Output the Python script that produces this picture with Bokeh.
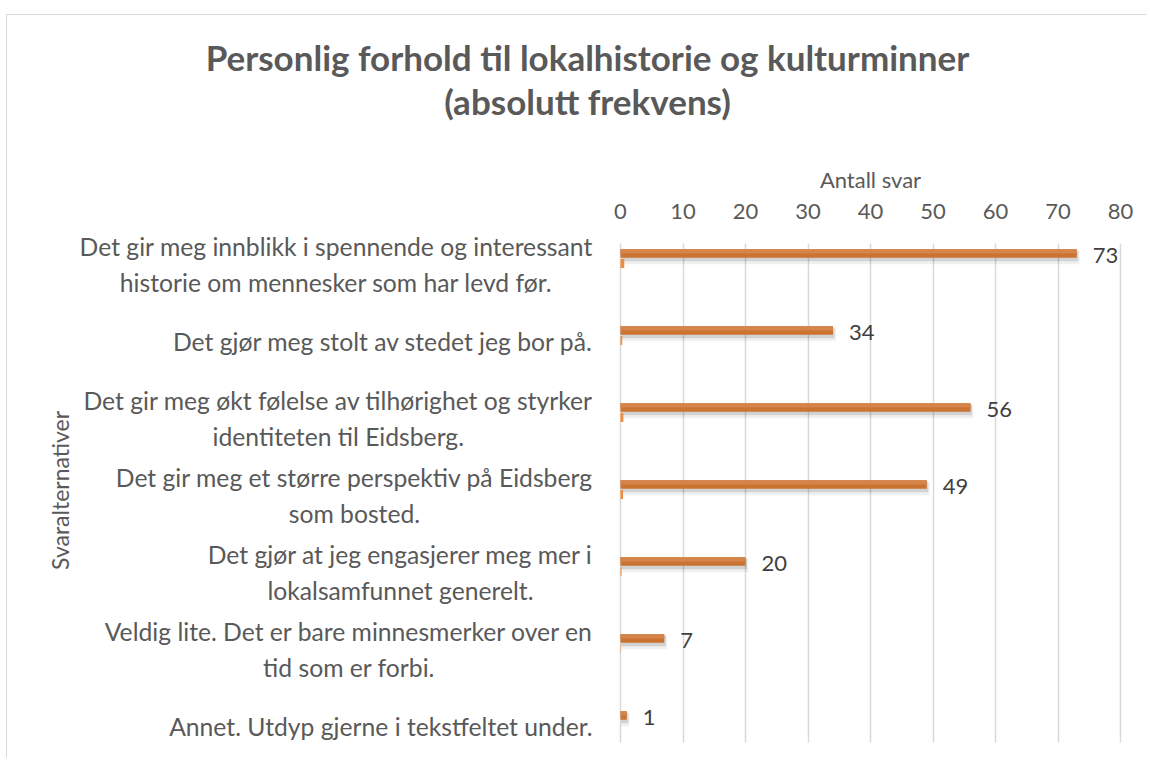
import glob, math, subprocess
from bokeh.plotting import figure
from bokeh.models import Range1d, FixedTicker, ColumnDataSource, Title
from bokeh.embed import file_html
from bokeh.resources import INLINE
from bokeh.core.properties import value

categories = [
    "Det gir meg innblikk i spennende og interessant\nhistorie om mennesker som har levd før.",
    "Det gjør meg stolt av stedet jeg bor på.",
    "Det gir meg økt følelse av tilhørighet og styrker\nidentiteten til Eidsberg.",
    "Det gir meg et større perspektiv på Eidsberg\nsom bosted.",
    "Det gjør at jeg engasjerer meg mer i\nlokalsamfunnet generelt.",
    "Veldig lite. Det er bare minnesmerker over en\ntid som er forbi.",
    "Annet. Utdyp gjerne i tekstfeltet under.",
]
antall = [73, 34, 56, 49, 20, 7, 1]
andel = [0.6, 0.28, 0.46, 0.4, 0.16, 0.06, 0.01]
x_ticks = [0, 10, 20, 30, 40, 50, 60, 70, 80]

title_lines = ["Personlig forhold til lokalhistorie og kulturminner", "(absolutt frekvens)"]
x_title = "Antall svar"
y_title = "Svaralternativer"

FONT = "Lato"
GREY = "#595959"
CAT_SIZE = 24.7
AX_SIZE = 22


def find_font():
    try:
        out = subprocess.run(["fc-match", "-f", "%{file}", "Lato:style=Regular"],
                             capture_output=True, text=True, timeout=5).stdout.strip()
        if out and "Lato" in out:
            return out
    except Exception:
        pass
    for pat in ["/usr/share/fonts/**/Lato-Regular.ttf", "/usr/local/share/fonts/**/Lato-Regular.ttf",
                "/usr/share/fonts/**/Lato-Reg*.ttf"]:
        g = glob.glob(pat, recursive=True)
        if g:
            return g[0]
    return None


def make_measurer():
    path = find_font()
    if not path:
        return None
    try:
        from PIL import ImageFont
        cache = {}

        def m(s, size):
            if size not in cache:
                cache[size] = ImageFont.truetype(path, size)
            return cache[size].getlength(s)
        return m
    except Exception:
        pass
    try:
        from fontTools.ttLib import TTFont
        tt = TTFont(path)
        cmap = tt.getBestCmap()
        hmtx = tt["hmtx"]
        upm = tt["head"].unitsPerEm

        def m(s, size):
            tot = 0
            for ch in s:
                gn = cmap.get(ord(ch))
                tot += hmtx[gn][0] if gn else upm * 0.5
            return tot * size / upm
        return m
    except Exception:
        return None


measure = make_measurer()

# ---- geometry (pixels) ----
PX_X = 6.25          # pixels per answer on the x axis
PX_Y = 77.0          # pixels per category
FRAME_LEFT = 20      # canvas px
ZERO_X = 593         # distance from frame left to the value 0
W, H = 1140, 744
FRAME_TOP = 215      # canvas px
LABEL_GAP = 28

n = len(categories)
pos = list(range(n))
main_off = 10.0 / PX_Y
bar_h = 8.5 / PX_Y

x_start = -ZERO_X / PX_X
x_end = x_start + (W - FRAME_LEFT) / PX_X
y_top = -33.0 / PX_Y
y_bottom = y_top + (H - FRAME_TOP) / PX_Y

lines_list = [c.split("\n") for c in categories]
if measure is not None:
    cat_offsets = [-LABEL_GAP - max(measure(l, CAT_SIZE) for l in ls) / 2 for ls in lines_list]
    cat_align = "center"
    ax_w = measure(x_title, AX_SIZE)
else:
    cat_offsets = [-LABEL_GAP] * n
    cat_align = "right"
    ax_w = 100

src = ColumnDataSource(dict(
    y=pos,
    y_main=[p_ - main_off for p_ in pos],
    y_sh1=[p_ - main_off + 4.0 / PX_Y for p_ in pos],
    y_sh2=[p_ - main_off + 2.5 / PX_Y for p_ in pos],
    y_top=[p_ - main_off - bar_h / 4 for p_ in pos],
    antall=antall,
    sh1=[a + 0.45 for a in antall],
    sh2=[a + 0.25 for a in antall],
    andel=andel,
    lbl=[str(a) for a in antall],
    cat=categories,
    cat_x=[0] * n,
    cat_off=cat_offsets,
))

p = figure(width=W, height=H, output_backend="svg", toolbar_location=None,
           x_range=Range1d(x_start, x_end),
           y_range=Range1d(y_bottom, y_top),
           x_axis_location="above",
           min_border_left=FRAME_LEFT, min_border_right=0, min_border_top=FRAME_TOP, min_border_bottom=0)
p.margin = (14, 0, 0, 6)
p.styles = {"border-top": "1px solid #d9d9d9", "border-left": "1px solid #d9d9d9"}
p.outline_line_color = None
p.background_fill_color = "white"
p.border_fill_color = "white"

# vertical gridlines
p.xgrid.ticker = FixedTicker(ticks=x_ticks)
p.xgrid.grid_line_color = "#d9d9d9"
p.xgrid.grid_line_width = 1.5
try:
    p.xgrid.cross_bounds = (-20.0 / PX_Y, n - 1 + 17.0 / PX_Y)
except Exception:
    pass
p.ygrid.grid_line_color = None

# shadows
p.hbar(y="y_sh1", left=0.15, right="sh1", height=bar_h + 5.0 / PX_Y, source=src,
       fill_color="black", fill_alpha=0.06, line_color=None)
p.hbar(y="y_sh2", left=0.1, right="sh2", height=bar_h + 2.0 / PX_Y, source=src,
       fill_color="black", fill_alpha=0.12, line_color=None)
# main bars (two-tone to mimic gradient)
p.hbar(y="y_main", left=0, right="antall", height=bar_h, source=src,
       fill_color="#CB7331", line_color=None)
p.hbar(y="y_top", left=0, right="antall", height=bar_h / 2, source=src,
       fill_color="#D5844A", line_color=None)
# secondary tiny series
p.hbar(y="y", left=0, right="andel", height=9.0 / PX_Y, source=src,
       fill_color="#F28C3C", line_color=None)

# value labels
p.text(x="antall", y="y_main", text="lbl", source=src, x_offset=16, y_offset=2,
       text_font=value(FONT), text_font_size="22px", text_color="#404040",
       text_baseline="middle", text_align="left")

# category labels
p.text(x="cat_x", y="y", text="cat", source=src, x_offset="cat_off", y_offset=1,
       text_font=value(FONT), text_font_size=f"{CAT_SIZE}px", text_color=GREY,
       text_align=cat_align, text_baseline="middle", text_line_height=1.22)

# y-axis title (rotated)
p.text(x=[0], y=[(pos[0] + pos[-1]) / 2], text=[y_title], x_offset=-561, y_offset=-4,
       angle=math.pi / 2, text_font=value(FONT), text_font_size="23px", text_color=GREY,
       text_align="center", text_baseline="middle")

xa = p.xaxis[0]
xa.ticker = FixedTicker(ticks=x_ticks)
xa.major_label_text_font = FONT
xa.major_label_text_font_size = f"{AX_SIZE}px"
xa.major_label_text_color = GREY
xa.major_label_standoff = 6
xa.axis_line_color = None
xa.major_tick_line_color = None
xa.minor_tick_line_color = None

p.yaxis.visible = False

# x-axis title, centred over the 0..80 scale
p.add_layout(Title(text=x_title, align="left", offset=ZERO_X + 40 * PX_X - ax_w / 2,
                   text_font=FONT, text_font_style="normal", text_font_size=f"{AX_SIZE}px",
                   text_color=GREY, standoff=16), "above")

t2 = Title(text=title_lines[1], align="center", text_font=FONT, text_font_style="bold",
           text_font_size="35px", text_color=GREY, standoff=0)
try:
    t2.padding = dict(left=0, right=0, top=0, bottom=34)
except Exception:
    t2.standoff = 40
p.add_layout(t2, "above")
p.add_layout(Title(text=title_lines[0], align="center", text_font=FONT, text_font_style="bold",
                   text_font_size="35px", text_color=GREY, standoff=0), "above")

open("out.html", "w").write(file_html(p, INLINE))
